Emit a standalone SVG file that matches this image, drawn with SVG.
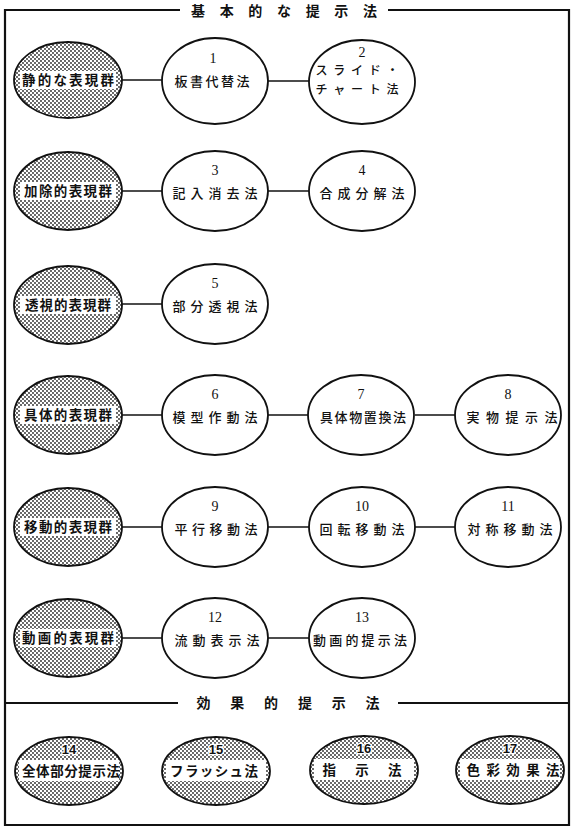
<svg xmlns="http://www.w3.org/2000/svg" width="574" height="829" viewBox="0 0 574 829">
<style>
.gray{fill:url(#dots);stroke:#111;stroke-width:1.8}
.white{fill:#fff;stroke:#111;stroke-width:1.8}
.band{fill:#fff}
.frame{fill:none;stroke:#111;stroke-width:2.2}
.conn{stroke:#111;stroke-width:1.6}
.title{font-family:"Noto Sans CJK JP",sans-serif;font-size:14px;font-weight:700;text-anchor:middle;fill:#111}
.lbl{font-family:"Noto Sans CJK JP",sans-serif;font-size:13px;font-weight:500;text-anchor:middle;fill:#111}
.sm{font-size:12px}
.glbl{font-family:"Noto Sans CJK JP",sans-serif;font-size:13.5px;font-weight:700;text-anchor:middle;fill:#111}
.num{font-family:"Liberation Serif",serif;font-size:14px;text-anchor:middle;fill:#111}
.bnum{font-family:"Liberation Sans",sans-serif;font-size:13px;font-weight:700;text-anchor:middle;fill:#111;stroke:#fff;stroke-width:2.5;paint-order:stroke}
</style>
<defs>
<pattern id="dots" width="4" height="4" patternUnits="userSpaceOnUse">
<rect width="4" height="4" fill="#fff"/>
<circle cx="1" cy="1" r="0.9" fill="#222"/>
<circle cx="3" cy="3" r="0.9" fill="#222"/>
</pattern>
</defs>
<rect width="574" height="829" fill="#fff"/>
<g id="frame">
<path class="frame" d="M180,10 H5 V825 H569 V10 H388"/>
<path class="frame" d="M5,703 H178 M398,703 H569"/>
<text class="title" x="284" y="16" textLength="186" lengthAdjust="spacing">基本的な提示法</text>
<text class="title" x="288" y="708" textLength="183" lengthAdjust="spacing">効果的提示法</text>
</g>
<g id="connectors">
<line class="conn" x1="122" y1="80" x2="162" y2="80"/>
<line class="conn" x1="268" y1="81" x2="309" y2="81"/>
<line class="conn" x1="122" y1="191" x2="162" y2="191"/>
<line class="conn" x1="268" y1="191" x2="309" y2="191"/>
<line class="conn" x1="122" y1="304" x2="162" y2="304"/>
<line class="conn" x1="122" y1="415" x2="162" y2="415"/>
<line class="conn" x1="268" y1="415" x2="309" y2="415"/>
<line class="conn" x1="415" y1="415" x2="455" y2="415"/>
<line class="conn" x1="122" y1="527" x2="162" y2="527"/>
<line class="conn" x1="268" y1="527" x2="309" y2="527"/>
<line class="conn" x1="415" y1="527" x2="455" y2="527"/>
<line class="conn" x1="122" y1="638" x2="162" y2="638"/>
<line class="conn" x1="268" y1="638" x2="309" y2="638"/>
</g>
<!-- row 1 -->
<g id="g1"><ellipse class="gray" cx="68" cy="80" rx="54" ry="38"/><rect class="band" x="20" y="71" width="96" height="18"/><text class="glbl" x="68" y="85" textLength="92" lengthAdjust="spacing">静的な表現群</text></g>
<g id="n1"><ellipse class="white" cx="215" cy="81" rx="53" ry="43"/><text class="num" x="213" y="63">1</text><text class="lbl" x="212" y="86" textLength="75" lengthAdjust="spacing">板書代替法</text></g>
<g id="n2"><ellipse class="white" cx="362" cy="82" rx="53" ry="42"/><text class="num" x="362" y="57">2</text><text class="lbl sm" x="357" y="75" textLength="83" lengthAdjust="spacing">スライド・</text><text class="lbl sm" x="357" y="94" textLength="83" lengthAdjust="spacing">チャート法</text></g>
<!-- row 2 -->
<g id="g2"><ellipse class="gray" cx="68" cy="191" rx="54" ry="39"/><rect class="band" x="20" y="182" width="96" height="18"/><text class="glbl" x="68" y="196" textLength="88" lengthAdjust="spacing">加除的表現群</text></g>
<g id="n3"><ellipse class="white" cx="215" cy="191" rx="53" ry="40"/><text class="num" x="215" y="175">3</text><text class="lbl" x="215" y="198" textLength="85" lengthAdjust="spacing">記入消去法</text></g>
<g id="n4"><ellipse class="white" cx="362" cy="191" rx="53" ry="40"/><text class="num" x="362" y="175">4</text><text class="lbl" x="362" y="198" textLength="85" lengthAdjust="spacing">合成分解法</text></g>
<!-- row 3 -->
<g id="g3"><ellipse class="gray" cx="68" cy="305" rx="54" ry="39"/><rect class="band" x="20" y="296" width="96" height="18"/><text class="glbl" x="68" y="310" textLength="86" lengthAdjust="spacing">透視的表現群</text></g>
<g id="n5"><ellipse class="white" cx="215" cy="304" rx="53" ry="40"/><text class="num" x="215" y="288">5</text><text class="lbl" x="215" y="311" textLength="85" lengthAdjust="spacing">部分透視法</text></g>
<!-- row 4 -->
<g id="g4"><ellipse class="gray" cx="68" cy="415" rx="54" ry="39"/><rect class="band" x="20" y="406" width="96" height="18"/><text class="glbl" x="68" y="420" textLength="88" lengthAdjust="spacing">具体的表現群</text></g>
<g id="n6"><ellipse class="white" cx="215" cy="415" rx="53" ry="40"/><text class="num" x="215" y="399">6</text><text class="lbl" x="215" y="422" textLength="85" lengthAdjust="spacing">模型作動法</text></g>
<g id="n7"><ellipse class="white" cx="361" cy="415" rx="53" ry="40"/><text class="num" x="361" y="399">7</text><text class="lbl" x="363" y="422" textLength="86" lengthAdjust="spacing">具体物置換法</text></g>
<g id="n8"><ellipse class="white" cx="508" cy="415" rx="53" ry="40"/><text class="num" x="508" y="399">8</text><text class="lbl" x="512" y="422" textLength="91" lengthAdjust="spacing">実物提示法</text></g>
<!-- row 5 -->
<g id="g5"><ellipse class="gray" cx="68" cy="527" rx="54" ry="39"/><rect class="band" x="20" y="518" width="96" height="18"/><text class="glbl" x="68" y="532" textLength="88" lengthAdjust="spacing">移動的表現群</text></g>
<g id="n9"><ellipse class="white" cx="215" cy="527" rx="53" ry="40"/><text class="num" x="215" y="511">9</text><text class="lbl" x="216" y="534" textLength="83" lengthAdjust="spacing">平行移動法</text></g>
<g id="n10"><ellipse class="white" cx="362" cy="527" rx="53" ry="40"/><text class="num" x="362" y="511">10</text><text class="lbl" x="362" y="534" textLength="85" lengthAdjust="spacing">回転移動法</text></g>
<g id="n11"><ellipse class="white" cx="508" cy="527" rx="53" ry="40"/><text class="num" x="508" y="511">11</text><text class="lbl" x="510" y="534" textLength="85" lengthAdjust="spacing">対称移動法</text></g>
<!-- row 6 -->
<g id="g6"><ellipse class="gray" cx="68" cy="638" rx="54" ry="39"/><rect class="band" x="20" y="629" width="96" height="18"/><text class="glbl" x="68" y="643" textLength="92" lengthAdjust="spacing">動画的表現群</text></g>
<g id="n12"><ellipse class="white" cx="215" cy="638" rx="53" ry="40"/><text class="num" x="215" y="622">12</text><text class="lbl" x="217" y="645" textLength="85" lengthAdjust="spacing">流動表示法</text></g>
<g id="n13"><ellipse class="white" cx="362" cy="638" rx="53" ry="40"/><text class="num" x="362" y="622">13</text><text class="lbl" x="360" y="645" textLength="94" lengthAdjust="spacing">動画的提示法</text></g>
<!-- bottom row -->
<g id="b14"><ellipse class="gray" cx="69" cy="771" rx="54" ry="34"/><rect class="band" x="19" y="760" width="100" height="21"/><text class="bnum" x="69" y="754">14</text><text class="glbl" x="71" y="776" textLength="98" lengthAdjust="spacing">全体部分提示法</text></g>
<g id="b15"><ellipse class="gray" cx="216" cy="771" rx="54" ry="34"/><rect class="band" x="166" y="760" width="100" height="21"/><text class="bnum" x="216" y="754">15</text><text class="glbl" x="214" y="776" textLength="88" lengthAdjust="spacing">フラッシュ法</text></g>
<g id="b16"><ellipse class="gray" cx="364" cy="770" rx="54" ry="34"/><rect class="band" x="314" y="759" width="100" height="21"/><text class="bnum" x="364" y="753">16</text><text class="glbl" x="362" y="775" textLength="79" lengthAdjust="spacing">指示法</text></g>
<g id="b17"><ellipse class="gray" cx="510" cy="770" rx="54" ry="34"/><rect class="band" x="460" y="759" width="100" height="21"/><text class="bnum" x="510" y="753">17</text><text class="glbl" x="513" y="775" textLength="93" lengthAdjust="spacing">色彩効果法</text></g>
</svg>
